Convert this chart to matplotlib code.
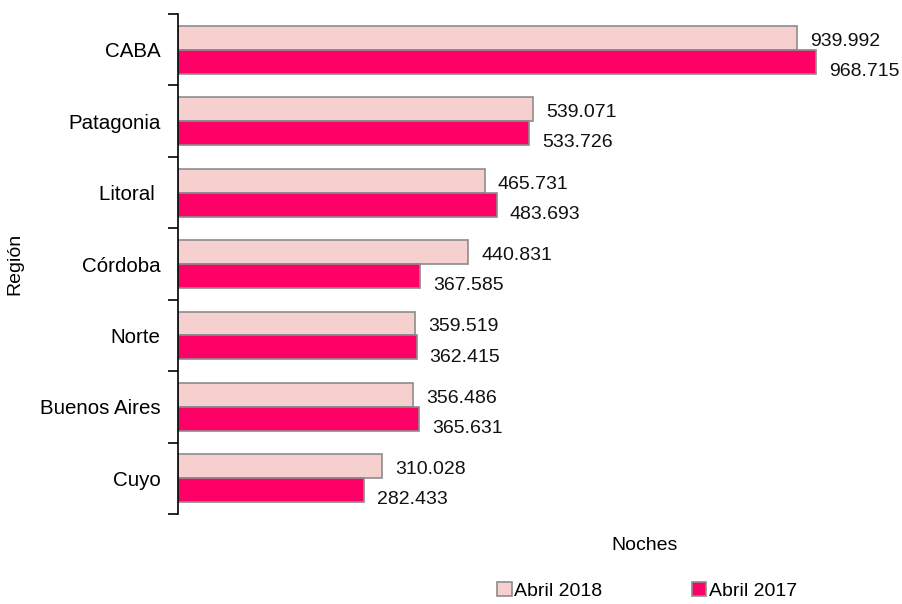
import matplotlib
matplotlib.use("Agg")
import matplotlib.pyplot as plt
import numpy as np

plt.rcParams['font.family'] = ['Liberation Sans', 'DejaVu Sans']

categories = ["CABA", "Patagonia", "Litoral ", "Córdoba", "Norte", "Buenos Aires", "Cuyo"]
abril_2018 = [939992, 539071, 465731, 440831, 359519, 356486, 310028]
abril_2017 = [968715, 533726, 483693, 367585, 362415, 365631, 282433]
series_labels = ["Abril 2018", "Abril 2017"]

def fmt(v):
    return f"{v:,}".replace(",", ".")

W, H = 902, 604
fig = plt.figure(figsize=(W/100, H/100), dpi=100)
ax_left, ax_right, ax_top, ax_bot = 178, 880, 14, 514
ax = fig.add_axes([ax_left/W, 1-ax_bot/H, (ax_right-ax_left)/W, (ax_bot-ax_top)/H])

n = len(categories)
y = np.arange(n)
h = 0.335
c18 = "#F6CFCF"
c17 = "#FF0066"
ec = "#8C8C8C"
ax.barh(y - h/2, abril_2018, height=h, color=c18, edgecolor=ec, linewidth=1.2, label=series_labels[0])
ax.barh(y + h/2, abril_2017, height=h, color=c17, edgecolor=ec, linewidth=1.2, label=series_labels[1])

fs = 14
fs_cat = 14.8
for i in range(n):
    ax.annotate(fmt(abril_2018[i]), (abril_2018[i], y[i] - h/2), xytext=(9.4, -2.5),
                textcoords="offset points", va="center", ha="left", fontsize=fs, color="#111111")
    ax.annotate(fmt(abril_2017[i]), (abril_2017[i], y[i] + h/2), xytext=(9.4, -7),
                textcoords="offset points", va="center", ha="left", fontsize=fs, color="#111111")

xmax = (ax_right - ax_left) / ((797 - 178) / 939992)
ax.set_xlim(0, xmax)
ax.set_ylim(n - 0.5, -0.5)

ax.set_yticks(y)
ax.set_yticklabels(categories, fontsize=fs_cat)
ax.set_yticks(np.arange(n + 1) - 0.5, minor=True)
ax.tick_params(axis='y', which='major', length=0, pad=12.5)
ax.tick_params(axis='y', which='minor', length=7, width=1.2, direction='out')
ax.set_xticks([])
for s in ["top", "right", "bottom"]:
    ax.spines[s].set_visible(False)
ax.spines["left"].set_linewidth(1.2)

fig.text(15/W, 1-264/H, "Región", rotation=90, ha="center", va="center", fontsize=fs)
fig.text(645/W, 1-545/H, "Noches", ha="center", va="center", fontsize=fs)

handles, labels = ax.get_legend_handles_labels()
fig.legend(handles, labels, loc="center", bbox_to_anchor=(647/W, 1-591/H), ncol=2,
           frameon=False, fontsize=fs, handlelength=0.75, handleheight=0.75,
           handletextpad=0.12, columnspacing=4.6, borderaxespad=0)

fig.savefig("out.png", dpi=100)
